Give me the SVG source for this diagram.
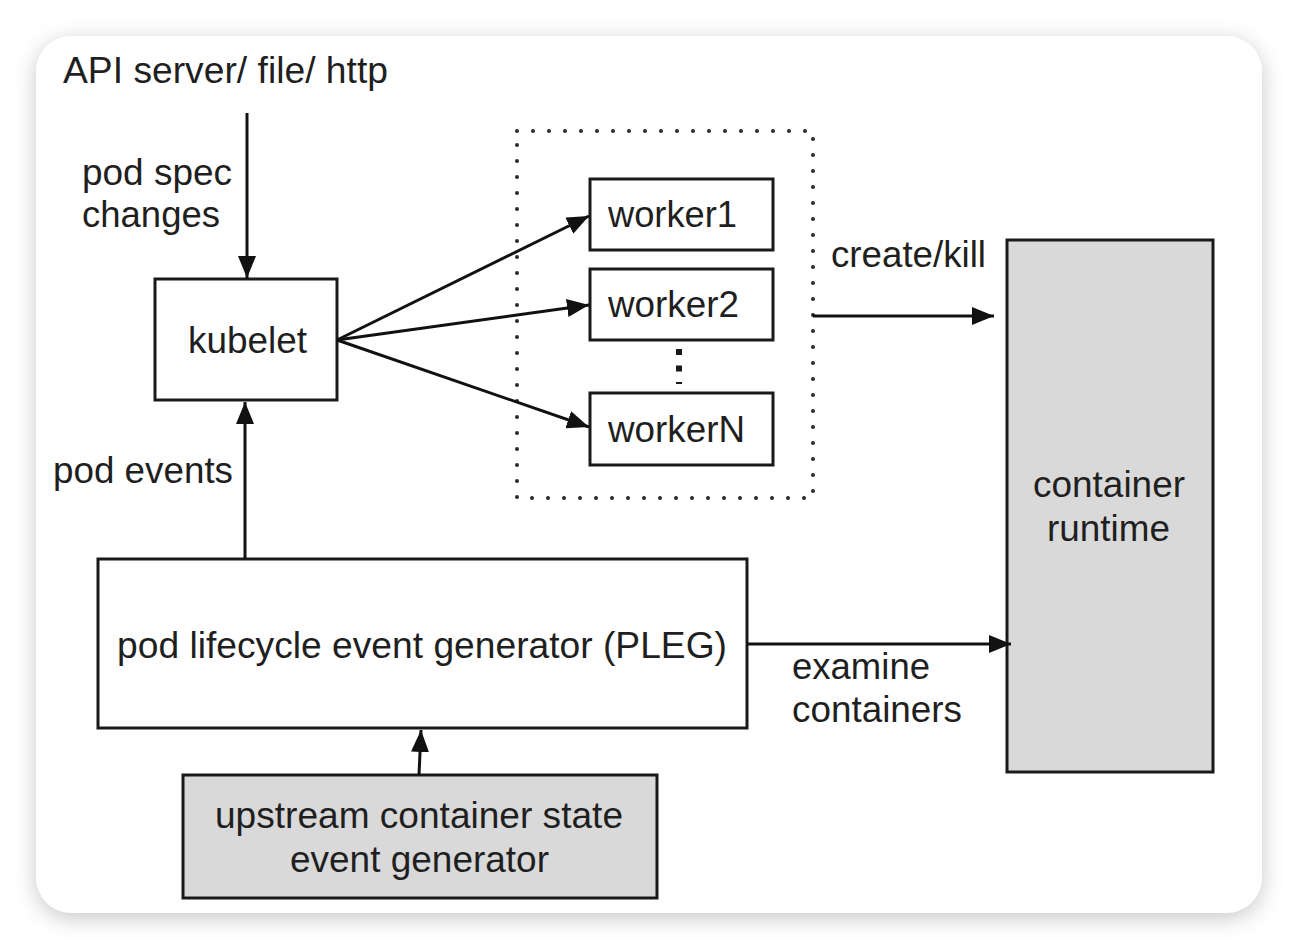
<svg xmlns="http://www.w3.org/2000/svg" width="1298" height="950" viewBox="0 0 1298 950">
  <defs>
    <filter id="shadow" x="-10%" y="-10%" width="120%" height="125%">
      <feDropShadow dx="0" dy="5" stdDeviation="11" flood-color="#000" flood-opacity="0.22"/>
    </filter>
    <marker id="arrow" viewBox="0 0 22 18" refX="22" refY="9" markerWidth="22" markerHeight="18" markerUnits="userSpaceOnUse" orient="auto">
      <path d="M0,0 L22,9 L0,18 z" fill="#111"/>
    </marker>
  </defs>
  <style>
    .box { fill: #fff; stroke: #1a1a1a; stroke-width: 3; }
    .gray { fill: #d9d9d9; stroke: #1a1a1a; stroke-width: 3; }
    .edge { fill: none; stroke: #111; stroke-width: 3; marker-end: url(#arrow); }
    .dots { fill: none; stroke: #2a2a2a; stroke-width: 4; stroke-linecap: round; stroke-dasharray: 0 16; }
    text { font-family: "Liberation Sans", Arial, sans-serif; font-size: 36px; fill: #1f1f1f; }
  </style>

  <rect x="0" y="0" width="1298" height="950" fill="#fff"/>
  <rect id="card" x="36" y="36" width="1226" height="877" rx="36" ry="36" fill="#fff" filter="url(#shadow)"/>

  <g id="source">
    <text x="63" y="83" textLength="325" lengthAdjust="spacingAndGlyphs">API server/ file/ http</text>
  </g>

  <g id="workers-group">
    <rect x="517" y="131" width="296" height="367" class="dots"/>
  </g>

  <g id="kubelet">
    <rect x="155" y="279" width="182" height="121" class="box"/>
    <text x="188" y="353" textLength="119" lengthAdjust="spacingAndGlyphs">kubelet</text>
  </g>

  <g id="worker1">
    <rect x="590" y="179" width="183" height="71" class="box"/>
    <text x="608" y="227" textLength="129" lengthAdjust="spacingAndGlyphs">worker1</text>
  </g>
  <g id="worker2">
    <rect x="590" y="269" width="183" height="71" class="box"/>
    <text x="608" y="317" textLength="131" lengthAdjust="spacingAndGlyphs">worker2</text>
  </g>
  <g id="workerN">
    <rect x="590" y="393" width="183" height="72" class="box"/>
    <text x="608" y="442" textLength="137" lengthAdjust="spacingAndGlyphs">workerN</text>
  </g>
  <g id="ellipsis">
    <line x1="679" y1="349" x2="679" y2="384" stroke="#1a1a1a" stroke-width="6" stroke-dasharray="6 10.5"/>
  </g>

  <g id="container-runtime">
    <rect x="1007" y="240" width="206" height="532" class="gray"/>
    <text x="1033" y="497" textLength="152" lengthAdjust="spacingAndGlyphs">container</text>
    <text x="1047" y="541" textLength="123" lengthAdjust="spacingAndGlyphs">runtime</text>
  </g>

  <g id="pleg">
    <rect x="98" y="559" width="649" height="169" class="box"/>
    <text x="117" y="658" textLength="610" lengthAdjust="spacingAndGlyphs">pod lifecycle event generator (PLEG)</text>
  </g>

  <g id="upstream">
    <rect x="183" y="775" width="474" height="123" class="gray"/>
    <text x="215" y="828" textLength="408" lengthAdjust="spacingAndGlyphs">upstream container state</text>
    <text x="290" y="872" textLength="259" lengthAdjust="spacingAndGlyphs">event generator</text>
  </g>

  <g id="connectors">
    <line x1="247" y1="113" x2="247" y2="278" class="edge"/>
    <line x1="245" y1="559" x2="245" y2="402" class="edge"/>
    <line x1="337" y1="340" x2="589" y2="216" class="edge"/>
    <line x1="337" y1="340" x2="589" y2="305" class="edge"/>
    <line x1="337" y1="340" x2="589" y2="427" class="edge"/>
    <line x1="813" y1="316" x2="994" y2="316" class="edge"/>
    <line x1="747" y1="644" x2="1011" y2="644" class="edge"/>
    <line x1="419" y1="775" x2="421" y2="730" class="edge"/>
  </g>

  <g id="labels">
    <text x="82" y="185" textLength="150" lengthAdjust="spacingAndGlyphs">pod spec</text>
    <text x="82" y="227" textLength="138" lengthAdjust="spacingAndGlyphs">changes</text>
    <text x="53" y="483" textLength="180" lengthAdjust="spacingAndGlyphs">pod events</text>
    <text x="831" y="267" textLength="155" lengthAdjust="spacingAndGlyphs">create/kill</text>
    <text x="792" y="679" textLength="138" lengthAdjust="spacingAndGlyphs">examine</text>
    <text x="792" y="722" textLength="170" lengthAdjust="spacingAndGlyphs">containers</text>
  </g>
</svg>
